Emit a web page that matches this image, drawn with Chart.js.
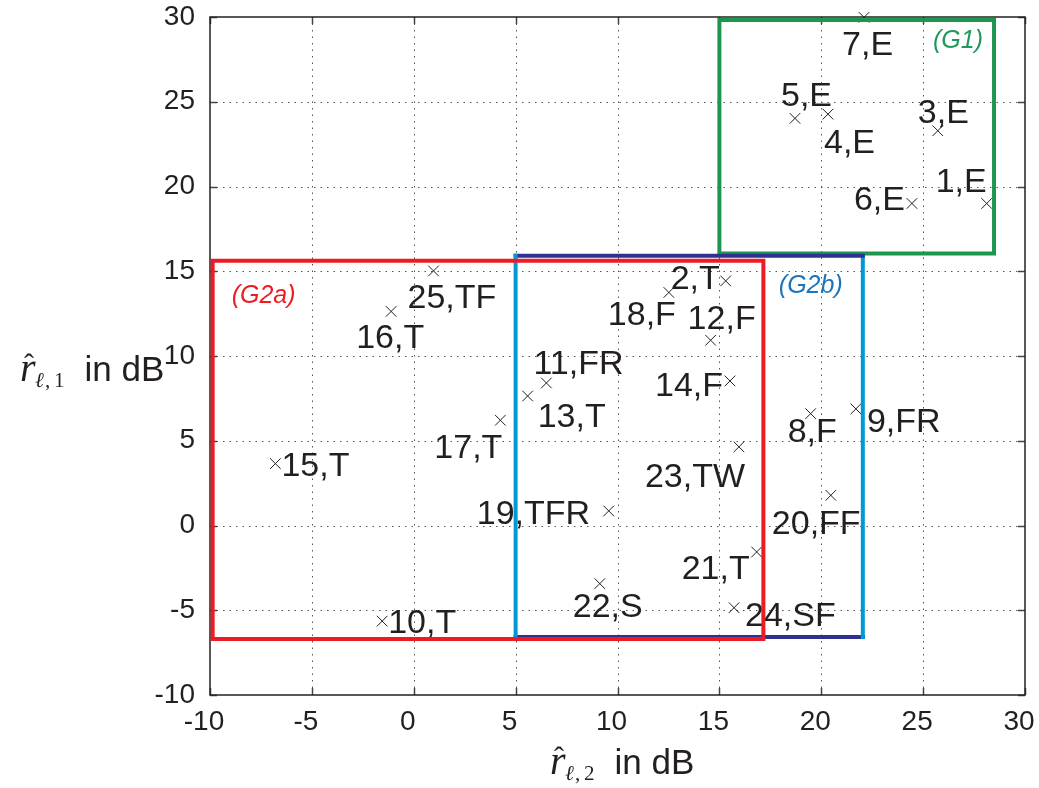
<!DOCTYPE html>
<html>
<head>
<meta charset="UTF-8">
<title>Ratio scatter</title>
<script src="https://cdn.jsdelivr.net/npm/chart.js"></script>
<style>
  html, body { margin: 0; padding: 0; background: #fff; }
  #wrap { width: 1039px; height: 788px; position: relative; }
</style>
</head>
<body>
<div id="wrap"><canvas id="ratioChart"></canvas></div>
<script>
// point number, class, and the two estimated ratios in dB
const pointIds = [1, 2, 3, 4, 5, 6, 7, 8, 9, 10, 11, 12, 13, 14, 15, 16, 17, 18, 19, 20, 21, 22, 23, 24, 25];
const pointTypes = ['E', 'T', 'E', 'E', 'E', 'E', 'E', 'F', 'FR', 'T', 'FR', 'F', 'T', 'F', 'T', 'T', 'T', 'F', 'TFR', 'FF', 'T', 'S', 'TW', 'SF', 'TF'];
const r2Values = [28.12, 15.31, 25.72, 20.33, 18.71, 24.45, 22.10, 19.48, 21.70, -1.55, 6.51, 14.57, 5.59, 15.52, -6.79, -1.11, 4.25, 12.52, 9.57, 20.47, 16.83, 9.13, 15.96, 15.72, 0.97];
const r1Values = [19.00, 14.43, 23.29, 24.27, 24.02, 19.00, 29.98, 6.60, 6.88, -5.64, 8.41, 10.93, 7.64, 8.53, 3.65, 12.63, 6.21, 13.75, 0.86, 1.78, -1.56, -3.43, 4.64, -4.85, 15.02];

// group rectangles: [min, max]
const g1X = [15.0, 28.48];
const g1Y = [16.05, 29.82];
const g2aX = [-9.87, 17.16];
const g2aY = [-6.70, 15.62];
const g2bX = [5.0, 22.04];
const g2bY = [-6.58, 15.91];

// where each label sits relative to its marker (px)
const labelShift = [
  [-51, -11], [-55, 8], [-20, -8], [-4, 39], [-14, -12], [-58, 7], [-22, 38], [-23, 28],
  [11, 23], [6, 12], [-13, -9], [-23, -11], [10, 31], [-75, 15], [6, 12], [-35, 37],
  [-66, 38], [-61, 33], [-132, 13], [-59, 39], [-75, 27], [-27, 33], [-94, 40], [11, 18], [-26, 37]
];

const RED = '#ed1c24', GREEN = '#1f9650', CYAN = '#0099d6', NAVY = '#2e3192';
const SANS = '"Liberation Sans", Arial, Helvetica, sans-serif';
const SERIF = '"Liberation Serif", "DejaVu Serif", serif';

function boxPoints(xs, ys) {
  return [
    {x: xs[0], y: ys[0]}, {x: xs[1], y: ys[0]}, {x: xs[1], y: ys[1]},
    {x: xs[0], y: ys[1]}, {x: xs[0], y: ys[0]}
  ];
}

function boxSet(xs, ys, color, order) {
  return {
    data: boxPoints(xs, ys),
    showLine: true,
    borderColor: color,
    borderWidth: 4,
    pointRadius: 0,
    tension: 0,
    order: order,
    clip: false,
    borderCapStyle: 'square',
    borderJoinStyle: 'miter'
  };
}

var points = [];
for (var i = 0; i < pointIds.length; i++) {
  points.push({x: r2Values[i], y: r1Values[i]});
}

var g2b = boxSet(g2bX, g2bY, CYAN, 1);
g2b.segment = {
  borderColor: function (c) { return c.p0.parsed.y === c.p1.parsed.y ? NAVY : CYAN; }
};

function drawTitle(ctx, left, base, sub) {
  ctx.textAlign = 'left';
  ctx.textBaseline = 'alphabetic';
  ctx.fillStyle = '#231f20';
  ctx.font = 'italic 40px ' + SERIF;
  ctx.fillText('r', left, base);
  ctx.font = '30px ' + SERIF;
  ctx.textAlign = 'center';
  ctx.fillText('\u02C6', left + 9, base - 7);
  ctx.textAlign = 'left';
  ctx.font = 'italic 21px ' + SERIF;
  ctx.fillText('\u2113', left + 15, base + 6);
  ctx.font = '21px ' + SERIF;
  ctx.fillText(',', left + 25, base + 6);
  ctx.fillText(sub, left + 34, base + 6);
  ctx.font = '35px ' + SANS;
  ctx.fillText('in dB', left + 64.5, base);
}

const framePlugin = {
  id: 'frame',
  beforeDatasetsDraw(chart) {
    const ctx = chart.ctx, a = chart.chartArea, xs = chart.scales.x, ys = chart.scales.y;
    ctx.save();
    ctx.strokeStyle = '#555';
    ctx.lineWidth = 1;
    ctx.setLineDash([1.5, 5]);
    xs.ticks.forEach(function (t) {
      if (t.value <= xs.min || t.value >= xs.max) return;
      var px = Math.round(xs.getPixelForValue(t.value)) + 0.5;
      ctx.beginPath(); ctx.moveTo(px, a.top); ctx.lineTo(px, a.bottom); ctx.stroke();
    });
    ys.ticks.forEach(function (t) {
      if (t.value <= ys.min || t.value >= ys.max) return;
      var py = Math.round(ys.getPixelForValue(t.value)) + 0.5;
      ctx.beginPath(); ctx.moveTo(a.left, py); ctx.lineTo(a.right, py); ctx.stroke();
    });
    ctx.setLineDash([]);
    ctx.strokeStyle = '#444';
    ctx.lineWidth = 1.5;
    xs.ticks.forEach(function (t) {
      var px = Math.round(xs.getPixelForValue(t.value)) + 0.5;
      ctx.beginPath();
      ctx.moveTo(px, a.bottom); ctx.lineTo(px, a.bottom - 7);
      ctx.moveTo(px, a.top); ctx.lineTo(px, a.top + 7);
      ctx.stroke();
    });
    ys.ticks.forEach(function (t) {
      var py = Math.round(ys.getPixelForValue(t.value)) + 0.5;
      ctx.beginPath();
      ctx.moveTo(a.left, py); ctx.lineTo(a.left + 7, py);
      ctx.moveTo(a.right, py); ctx.lineTo(a.right - 7, py);
      ctx.stroke();
    });
    ctx.strokeStyle = '#222';
    ctx.strokeRect(a.left, a.top, a.right - a.left, a.bottom - a.top);
    drawTitle(ctx, a.left - 190, (a.top + a.bottom) / 2 + 25, '1');
    drawTitle(ctx, (a.left + a.right) / 2 - 67.5, a.bottom + 79, '2');
    ctx.restore();
  },
  afterDatasetDraw(chart, args) {
    if (args.index !== 0) return;
    const ctx = chart.ctx, xs = chart.scales.x, ys = chart.scales.y;
    ctx.save();
    ctx.font = '34px ' + SANS;
    ctx.fillStyle = '#231f20';
    ctx.textAlign = 'left';
    ctx.textBaseline = 'alphabetic';
    for (var i = 0; i < pointIds.length; i++) {
      var px = xs.getPixelForValue(r2Values[i]);
      var py = ys.getPixelForValue(r1Values[i]);
      ctx.fillText(pointIds[i] + ',' + pointTypes[i], px + labelShift[i][0], py + labelShift[i][1]);
    }
    ctx.restore();
  },
  afterDatasetsDraw(chart) {
    const ctx = chart.ctx, xs = chart.scales.x, ys = chart.scales.y;
    ctx.save();
    ctx.font = 'italic 25px ' + SANS;
    ctx.textAlign = 'left';
    ctx.textBaseline = 'alphabetic';
    ctx.fillStyle = '#22995a';
    ctx.fillText('(G1)', xs.getPixelForValue(g1X[1]) - 61, ys.getPixelForValue(g1Y[1]) + 28);
    ctx.fillStyle = RED;
    ctx.fillText('(G2a)', xs.getPixelForValue(g2aX[0]) + 19, ys.getPixelForValue(g2aY[1]) + 42);
    ctx.fillStyle = '#1c75bc';
    ctx.fillText('(G2b)', xs.getPixelForValue(g2bX[1]) - 84, ys.getPixelForValue(g2bY[1]) + 37);
    ctx.restore();
  }
};

var ctx = document.getElementById('ratioChart').getContext('2d');
var ratioChart = new Chart(ctx, {
  type: 'scatter',
  data: {
    datasets: [
      {
        data: points,
        pointStyle: 'crossRot',
        pointRadius: 7.5,
        pointBorderWidth: 1,
        pointBorderColor: '#231f20',
        pointBackgroundColor: '#231f20',
        order: 10,
        clip: false
      },
      boxSet(g2aX, g2aY, RED, 0),
      g2b,
      boxSet(g1X, g1Y, GREEN, 2)
    ]
  },
  options: {
    responsive: true,
    maintainAspectRatio: false,
    animation: false,
    layout: { padding: { top: 17, right: 14, left: 0, bottom: 0 } },
    plugins: { legend: { display: false }, tooltip: { enabled: false } },
    scales: {
      x: {
        type: 'linear', min: -10, max: 30,
        grid: { display: false }, border: { display: false },
        ticks: { stepSize: 5, padding: 2, labelOffset: -6, color: '#231f20', font: { family: SANS, size: 28 } },
        afterFit: function (s) { s.height = 93; s.paddingLeft = 0; s.paddingRight = 0; }
      },
      y: {
        type: 'linear', min: -10, max: 30,
        grid: { display: false }, border: { display: false },
        ticks: { stepSize: 5, padding: 7, color: '#231f20', font: { family: SANS, size: 28 } },
        afterFit: function (s) { s.width = 210; s.paddingTop = 0; s.paddingBottom = 0; }
      }
    }
  },
  plugins: [framePlugin]
});
</script>
</body>
</html>
